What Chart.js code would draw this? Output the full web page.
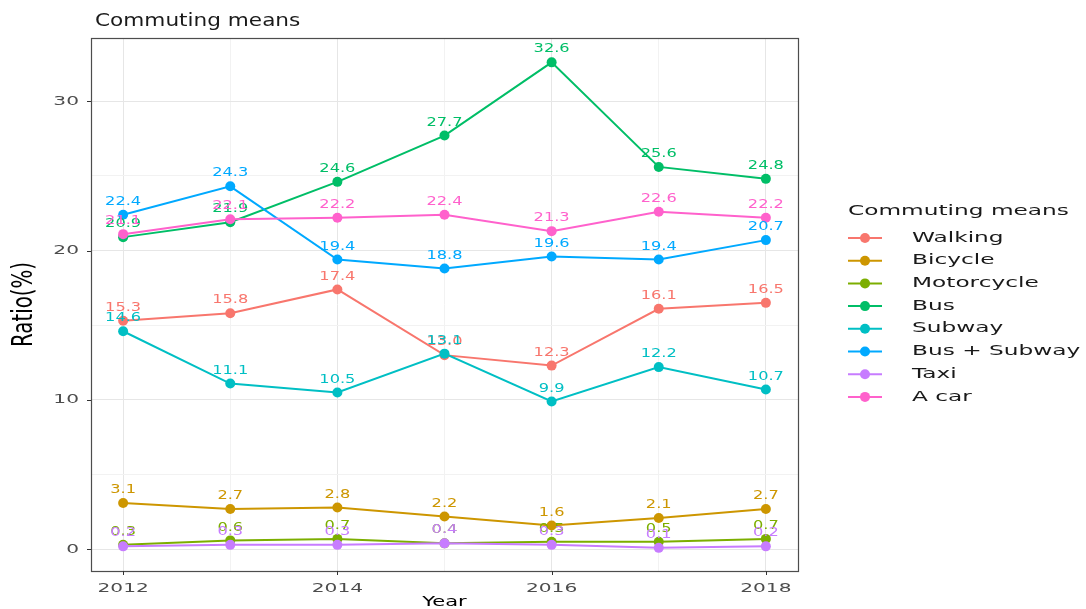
<!DOCTYPE html>
<html><head><meta charset="utf-8">
<script src="https://cdn.jsdelivr.net/npm/chart.js@4"></script>
<style>html,body{margin:0;padding:0;background:#fff;overflow:hidden}#wrap{width:1086px;height:609px;position:relative}canvas{display:block}</style>
</head><body><div id="wrap"><canvas id="c" width="1086" height="609" style="width:1086px;height:609px"></canvas></div>
<script>
const years = [2012, 2013, 2014, 2015, 2016, 2017, 2018];
const seriesNames = ['Walking', 'Bicycle', 'Motorcycle', 'Bus', 'Subway', 'Bus + Subway', 'Taxi', 'A car'];
const seriesColors = ['#F8766D', '#CD9600', '#7CAE00', '#00BE67', '#00BFC4', '#00A9FF', '#C77CFF', '#FF61CC'];
const walking    = [15.3, 15.8, 17.4, 13.0, 12.3, 16.1, 16.5];
const bicycle    = [3.1, 2.7, 2.8, 2.2, 1.6, 2.1, 2.7];
const motorcycle = [0.3, 0.6, 0.7, 0.4, 0.5, 0.5, 0.7];
const bus        = [20.9, 21.9, 24.6, 27.7, 32.6, 25.6, 24.8];
const subway     = [14.6, 11.1, 10.5, 13.1, 9.9, 12.2, 10.7];
const busSubway  = [22.4, 24.3, 19.4, 18.8, 19.6, 19.4, 20.7];
const taxi       = [0.2, 0.3, 0.3, 0.4, 0.3, 0.1, 0.2];
const aCar       = [21.1, 22.1, 22.2, 22.4, 21.3, 22.6, 22.2];
const seriesValues = [walking, bicycle, motorcycle, bus, subway, busSubway, taxi, aCar];
const xTickLabels = [2012, 2014, 2016, 2018];
const yTickLabels = [0, 10, 20, 30];
const chartTitle = 'Commuting means';
const legendTitle = 'Commuting means';
const xTitle = 'Year';
const yTitle = 'Ratio(%)';

const FONT = '"DejaVu Sans", sans-serif';
function sText(ctx, txt, x, y, size, color, sx, align) {
  ctx.save();
  ctx.font = size + 'px ' + FONT;
  ctx.fillStyle = color;
  ctx.textAlign = align || 'center';
  ctx.textBaseline = 'middle';
  ctx.translate(x, y);
  ctx.scale(sx, 1);
  ctx.fillText(txt, 0, 0);
  ctx.restore();
}

const datasets = seriesNames.map((name, i) => ({
  label: name,
  data: years.map((yr, j) => ({ x: yr, y: seriesValues[i][j] })),
  borderColor: seriesColors[i],
  backgroundColor: seriesColors[i],
  pointBackgroundColor: seriesColors[i],
  pointBorderColor: seriesColors[i],
  pointRadius: 5,
  pointBorderWidth: 0,
  borderWidth: 2,
  tension: 0,
  clip: false,
  order: seriesNames.length - 1 - i
}));

const decor = {
  id: 'decor',
  afterDatasetsDraw(chart) {
    const ctx = chart.ctx;
    const xs = chart.scales.x, ys = chart.scales.y;
    seriesValues.forEach((vals, i) => {
      vals.forEach((v, j) => {
        const px = xs.getPixelForValue(years[j]);
        const py = ys.getPixelForValue(v);
        sText(ctx, v.toFixed(1), px, py - 13, 12, seriesColors[i], 1.35, 'center');
      });
    });
  },
  afterDraw(chart) {
    const ctx = chart.ctx;
    const xs = chart.scales.x, ys = chart.scales.y;
    const a = chart.chartArea;
    ctx.save();
    ctx.strokeStyle = '#4D4D4D';
    ctx.lineWidth = 1.2;
    ctx.strokeRect(Math.round(a.left) + 0.5, Math.round(a.top) + 0.5, Math.round(a.right - a.left), Math.round(a.bottom - a.top));
    ctx.strokeStyle = '#333333';
    ctx.lineWidth = 1;
    ctx.beginPath();
    xTickLabels.forEach(v => {
      const px = Math.round(xs.getPixelForValue(v)) + 0.5;
      ctx.moveTo(px, a.bottom); ctx.lineTo(px, a.bottom + 4);
    });
    yTickLabels.forEach(v => {
      const py = Math.round(ys.getPixelForValue(v)) + 0.5;
      ctx.moveTo(a.left - 4, py); ctx.lineTo(a.left, py);
    });
    ctx.stroke();
    ctx.restore();
    xTickLabels.forEach(v => sText(ctx, String(v), xs.getPixelForValue(v), 589, 13, '#4D4D4D', 1.55, 'center'));
    yTickLabels.forEach(v => sText(ctx, String(v), 79, ys.getPixelForValue(v), 13, '#4D4D4D', 1.55, 'right'));
    sText(ctx, xTitle, (a.left + a.right) / 2, 602, 14, '#000000', 1.5, 'center');
    ctx.save();
    ctx.font = '22px "Liberation Sans Narrow", "DejaVu Sans Condensed", sans-serif';
    ctx.fillStyle = '#000';
    ctx.textAlign = 'center';
    ctx.textBaseline = 'middle';
    ctx.translate(25, (a.top + a.bottom) / 2);
    ctx.scale(1.3, 1);
    ctx.rotate(-Math.PI / 2);
    ctx.fillText(yTitle, 0, 0);
    ctx.restore();
    sText(ctx, chartTitle, 95, 21, 18, '#1A1A1A', 1.2, 'left');
    sText(ctx, legendTitle, 848, 211, 14, '#1A1A1A', 1.66, 'left');
    seriesNames.forEach((name, i) => {
      const y = 238 + i * 22.7;
      ctx.save();
      ctx.strokeStyle = seriesColors[i];
      ctx.fillStyle = seriesColors[i];
      ctx.lineWidth = 2;
      ctx.beginPath(); ctx.moveTo(848, y); ctx.lineTo(882, y); ctx.stroke();
      ctx.beginPath(); ctx.arc(865, y, 5, 0, Math.PI * 2); ctx.fill();
      ctx.restore();
      sText(ctx, name, 912, y, 14, '#1A1A1A', 1.66, 'left');
    });
  }
};

new Chart(document.getElementById('c'), {
  type: 'line',
  data: { datasets },
  options: {
    responsive: false,
    animation: false,
    devicePixelRatio: 1,
    layout: { padding: { top: 38, right: 288, left: 0, bottom: 0 } },
    plugins: { legend: { display: false }, tooltip: { enabled: false }, title: { display: false } },
    scales: {
      x: {
        type: 'linear', min: 2011.7, max: 2018.3,
        afterBuildTicks: s => { s.ticks = years.map(v => ({ value: v })); },
        afterFit: s => { s.height = 38; },
        ticks: { display: false },
        border: { display: false },
        grid: { drawTicks: false, lineWidth: 1, color: c => (c.tick && c.tick.value % 2 === 0) ? '#E6E6E6' : '#F2F2F2' }
      },
      y: {
        type: 'linear', min: -1.45, max: 34.23,
        afterBuildTicks: s => { s.ticks = [0, 5, 10, 15, 20, 25, 30].map(v => ({ value: v })); },
        afterFit: s => { s.width = 91; },
        ticks: { display: false },
        border: { display: false },
        grid: { drawTicks: false, lineWidth: 1, color: c => (c.tick && c.tick.value % 10 === 0) ? '#E6E6E6' : '#F2F2F2' }
      }
    }
  },
  plugins: [decor]
});
</script>
</body></html>
